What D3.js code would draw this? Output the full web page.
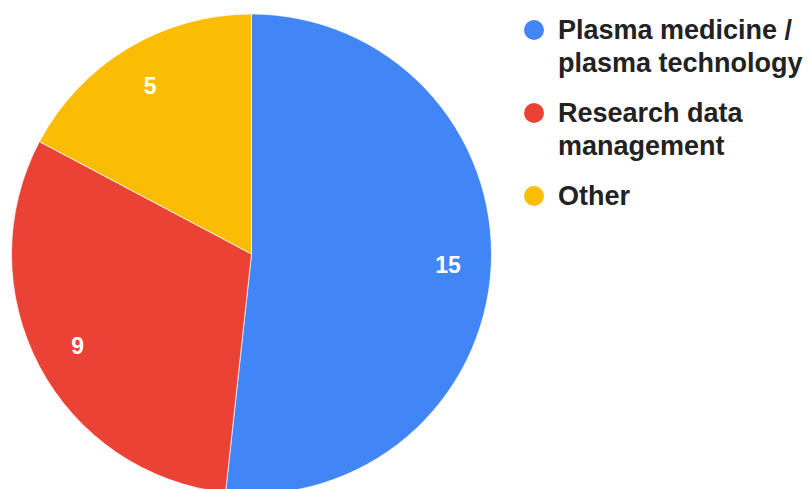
<!DOCTYPE html>
<html><head><meta charset="utf-8">
<script src="https://cdn.jsdelivr.net/npm/d3@7"></script>
<style>body{margin:0;background:#fff;overflow:hidden;}svg{display:block;}</style>
</head><body>
<svg id="c" width="810" height="489"></svg>
<script>
const categories = ["Plasma medicine / plasma technology", "Research data management", "Other"];
const legendLines = [["Plasma medicine /", "plasma technology"], ["Research data", "management"], ["Other"]];
const values = [15, 9, 5];
const colors = ["#4285F4", "#EA4335", "#FBBC04"];

const svg = d3.select("#c");
const cx = 251.5, cy = 254, r = 240;
const pie = d3.pie().sort(null).value(d => d)(values);
const arc = d3.arc().innerRadius(0).outerRadius(r);
const labelArc = d3.arc().innerRadius(r * 0.82).outerRadius(r * 0.82);
const g = svg.append("g").attr("transform", `translate(${cx},${cy})`);
g.selectAll("path").data(pie).join("path")
  .attr("d", arc).attr("fill", (d, i) => colors[i])
  .attr("stroke", "#fff").attr("stroke-width", 0.7);
g.selectAll("text").data(pie).join("text")
  .attr("transform", d => `translate(${labelArc.centroid(d)})`)
  .attr("text-anchor", "middle").attr("dy", "0.36em")
  .attr("fill", "#fff").attr("font-family", "Liberation Sans, Arial, sans-serif")
  .attr("font-weight", "bold").attr("font-size", 23)
  .text(d => d.data);

const lg = svg.append("g").attr("font-family", "Liberation Sans, Arial, sans-serif")
  .attr("font-weight", "bold").attr("font-size", 27).attr("fill", "#222");
const circleY = [30, 113, 196];
const baseY = [39, 122, 205];
legendLines.forEach((lines, i) => {
  lg.append("circle").attr("cx", 534).attr("cy", circleY[i]).attr("r", 10).attr("fill", colors[i]);
  const t = lg.append("text").attr("x", 558).attr("y", baseY[i]);
  lines.forEach((ln, j) => t.append("tspan").attr("x", 558).attr("dy", j === 0 ? 0 : 33).text(ln));
});
</script>
</body></html>
